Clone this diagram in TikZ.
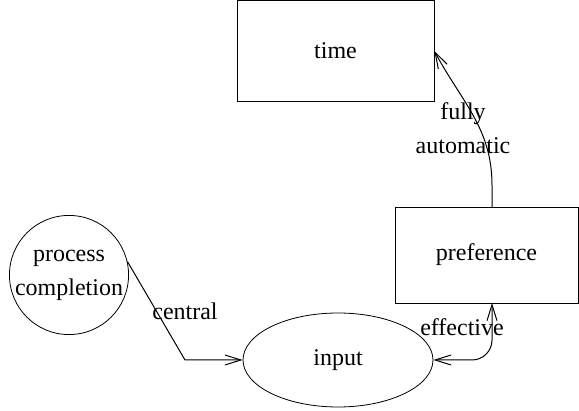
\documentclass[tikz,border=0pt]{standalone}
\usepackage{fontspec}
\setmainfont{Liberation Serif}
\usetikzlibrary{arrows.meta, shapes.geometric}

\begin{document}
\begin{tikzpicture}[x=0.5pt, y=-0.5pt, font=\fontsize{12}{17}\selectfont, >={Straight Barb[length=8pt, width=5pt]}]
  % Define styles
  \tikzstyle{box} = [rectangle, draw, minimum width=98.5pt, minimum height=50.5pt]
  \tikzstyle{blob} = [circle, draw, inner sep=0pt, minimum size=57.5pt, align=center]
  \tikzstyle{oval} = [ellipse, draw, minimum width=95pt, minimum height=47pt]
  \tikzstyle{edge} = [draw, line width=0.5pt]

  \useasboundingbox (0,0) rectangle (579,411);

  % Time
  \node[box] (time) at (335.5,51) {time};

  % Preference
  \node[box, minimum width=91.5pt, minimum height=48pt] (pref) at (486.5,255) {preference};

  % Process completion
  \node[blob] (proc) at (69,275) {process\\completion};

  % Input
  \node[oval] (input) at (338,360) {input};

  % Bend points
  \coordinate (bend) at (185,360);
  \coordinate (prefin) at (492,303);
  \coordinate (prefout) at (492,207);

  % Arrows
  \draw[edge, ->] (proc.13) -- (bend) -- (input.west);
  \draw[edge, <->, rounded corners=10pt] (input.east) -| (prefin);
  \draw[edge, ->] (prefout) -- (492,185) to[out=90, in=-62] (time.east);

  % Edge labels
  \node (central) at (185,311) {central};
  \node (effective) at (462,327) {effective};
  \node[align=center] (fully) at (463,128) {fully\\automatic};
\end{tikzpicture}
\end{document}
